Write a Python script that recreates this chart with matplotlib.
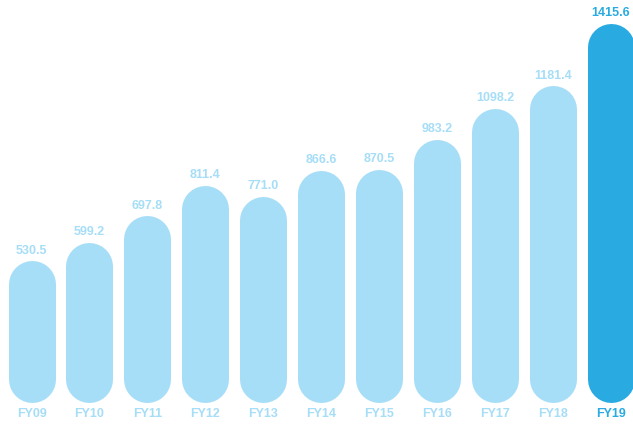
import matplotlib
matplotlib.use("Agg")
import matplotlib.pyplot as plt

years = ["FY09", "FY10", "FY11", "FY12", "FY13", "FY14", "FY15", "FY16", "FY17", "FY18", "FY19"]
values = [530.5, 599.2, 697.8, 811.4, 771.0, 866.6, 870.5, 983.2, 1098.2, 1181.4, 1415.6]

LIGHT = "#A6DDF7"
DARK = "#29ABE2"
DPI = 100
BAR_PX = 47  # bar width in pixels

fig = plt.figure(figsize=(6.33, 4.25), dpi=DPI)
ax = fig.add_axes([0, 0, 1, 1])
ax.set_xlim(-0.5436, 10.38)
ax.set_ylim(-82, 1501.5)
ax.axis("off")

# pixels per data unit on the y axis
px_per_unit = fig.get_figheight() * DPI / (1501.5 + 82)
r = (BAR_PX / 2) / px_per_unit

lw = BAR_PX * 72 / DPI
for i, (yr, v) in enumerate(zip(years, values)):
    col = DARK if i == len(years) - 1 else LIGHT
    # rounded-cap line acts as a pill shaped bar
    ax.plot([i, i], [r, v - r], color=col, lw=lw, solid_capstyle="round")
    ax.text(i, v + 7 / px_per_unit, f"{v:.1f}", ha="center", va="baseline",
            color=col, fontsize=9, fontweight="bold", family="Liberation Sans")
    ax.text(i, -14 / px_per_unit, yr, ha="center", va="baseline",
            color=col, fontsize=9, fontweight="bold", family="Liberation Sans")

fig.savefig("out.png", dpi=DPI)
